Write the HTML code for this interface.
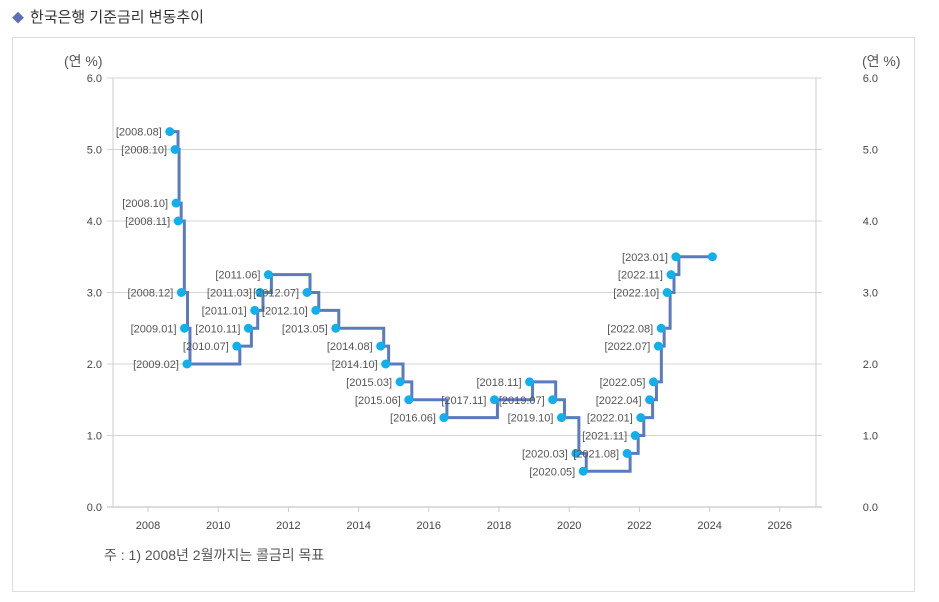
<!DOCTYPE html>
<html><head><meta charset="utf-8"><style>
body{margin:0;background:#fff;width:939px;height:602px;overflow:hidden;font-family:"Liberation Sans","Noto Sans CJK KR",sans-serif}
#title{position:absolute;left:12px;top:6px;font-size:15px;color:#333}
#title span{color:#5b6fb8;font-size:12px;margin-right:6px}
#frame{position:absolute;left:12px;top:37px;width:903px;height:555px;border:1px solid #ddd;box-sizing:border-box}
svg{position:absolute;left:0;top:0}
</style></head><body>
<div id="title"><span>◆</span>한국은행 기준금리 변동추이</div>
<div id="frame"></div>
<svg id="chart" width="939" height="602"></svg>
<script>
const labels=["2008.08","2008.10","2008.10","2008.11","2008.12","2009.01","2009.02","2010.07","2010.11","2011.01","2011.03","2011.06","2012.07","2012.10","2013.05","2014.08","2014.10","2015.03","2015.06","2016.06","2017.11","2018.11","2019.07","2019.10","2020.03","2020.05","2021.08","2021.11","2022.01","2022.04","2022.05","2022.07","2022.08","2022.10","2022.11","2023.01",""];
const dates=[2008.62,2008.77,2008.80,2008.86,2008.95,2009.04,2009.11,2010.53,2010.86,2011.04,2011.19,2011.43,2012.53,2012.78,2013.35,2014.63,2014.77,2015.18,2015.43,2016.43,2017.87,2018.87,2019.53,2019.78,2020.19,2020.40,2021.65,2021.88,2022.04,2022.29,2022.40,2022.54,2022.62,2022.79,2022.90,2023.04,2024.08];
const rates=[5.25,5.00,4.25,4.00,3.00,2.50,2.00,2.25,2.50,2.75,3.00,3.25,3.00,2.75,2.50,2.25,2.00,1.75,1.50,1.25,1.50,1.75,1.50,1.25,0.75,0.50,0.75,1.00,1.25,1.50,1.75,2.25,2.50,3.00,3.25,3.50,3.50];
const yTicks=[0,1,2,3,4,5,6];
const xTicks=[2008,2010,2012,2014,2016,2018,2020,2022,2024,2026];
const X=v=>148+(v-2008)*35.1;
const Y=v=>507-v*71.5;
const svg=document.getElementById('chart');
const NS='http://www.w3.org/2000/svg';
function mk(t,a,p){const e=document.createElementNS(NS,t);for(const k in a)e.setAttribute(k,a[k]);(p||svg).appendChild(e);return e;}
yTicks.forEach(v=>{
 const g=mk('line',{x1:107,x2:822,y1:Y(v),y2:Y(v),stroke:v==0?'#bbb':'#d4d4d4','stroke-width':1});
 
 
 const l=mk('text',{x:102,y:Y(v)+4,'text-anchor':'end','font-size':11,fill:'#444'});l.textContent=v.toFixed(1);
 
 
 const r=mk('text',{x:878,y:Y(v)+4,'text-anchor':'end','font-size':11,fill:'#444'});r.textContent=v.toFixed(1);
 
 
});
mk('line',{x1:113,x2:113,y1:78,y2:507,stroke:'#ccc'});
mk('line',{x1:816,x2:816,y1:78,y2:507,stroke:'#ccc'});
xTicks.forEach(v=>{
 mk('line',{x1:X(v),x2:X(v),y1:507,y2:512,stroke:'#ccc'});
 const t=mk('text',{x:X(v),y:529,'text-anchor':'middle','font-size':11,fill:'#444'});t.textContent=v;
 
 
});
[[64,'(연 %)'],[862,'(연 %)']].forEach(([x,s])=>{const t=mk('text',{x:x,y:66,'font-size':14,fill:'#555'});t.textContent=s;
 
 });
let d='';
for(let i=0;i<dates.length;i++){
 const x=X(dates[i])+3,y=Y(rates[i]);
 if(i==0)d+='M'+x+','+y;else d+='H'+x+'V'+y;
}
const p=mk('path',{d:d,fill:'none',stroke:'#5b7bbf','stroke-width':3});


for(let i=0;i<dates.length;i++){
 const c=mk('circle',{cx:X(dates[i]),cy:Y(rates[i]),r:4.5,fill:'#0fb0ec'});
 
 
 if(labels[i]){const t=mk('text',{x:X(dates[i])-8,y:Y(rates[i])+4,'text-anchor':'end','font-size':11,fill:'#555'});t.textContent='['+labels[i]+']';
 
 }
}
const n=mk('text',{x:104,y:560,'font-size':14,fill:'#555'});n.textContent='주 : 1) 2008년 2월까지는 콜금리 목표';


</script>
</body></html>
